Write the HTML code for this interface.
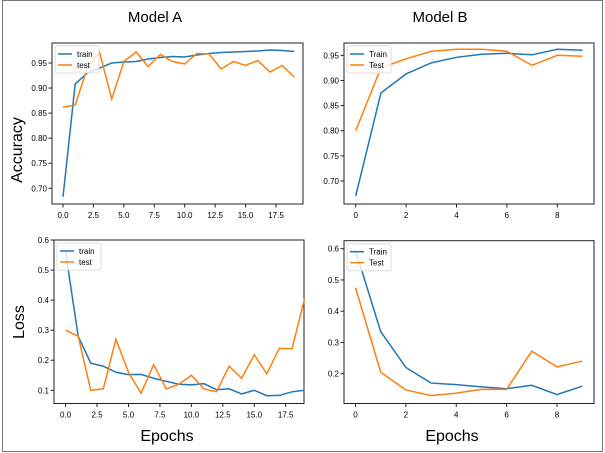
<!DOCTYPE html>
<html><head><meta charset="utf-8"><style>
html,body{margin:0;padding:0;background:#fff}
svg{display:block;font-family:"Liberation Sans","DejaVu Sans",sans-serif}
</style></head><body>
<svg id="c" width="605" height="453" viewBox="0 0 605 453">
<rect x="2.5" y="0.5" width="600" height="451" fill="#fff" stroke="#777"/>
<text x="155" y="22" font-size="15" text-anchor="middle">Model A</text>
<text x="440" y="22" font-size="15" text-anchor="middle">Model B</text>
<text x="22" y="150" font-size="16" text-anchor="middle" transform="rotate(-90 22 150)">Accuracy</text>
<text x="24" y="322" font-size="16" text-anchor="middle" transform="rotate(-90 24 322)">Loss</text>
<text x="167" y="441" font-size="16" text-anchor="middle">Epochs</text>
<text x="452" y="441" font-size="16" text-anchor="middle">Epochs</text>
</svg>
<script>
const aAccTrain=[0.683,0.908,0.93,0.94,0.95,0.952,0.953,0.958,0.961,0.963,0.962,0.966,0.969,0.971,0.972,0.973,0.974,0.976,0.975,0.973];
const aAccTest=[0.862,0.866,0.94,0.972,0.878,0.953,0.972,0.943,0.967,0.953,0.948,0.969,0.968,0.938,0.953,0.945,0.955,0.932,0.945,0.922];
const aLossTrain=[0.56,0.28,0.19,0.18,0.16,0.152,0.153,0.14,0.13,0.12,0.118,0.122,0.102,0.105,0.088,0.1,0.082,0.083,0.095,0.1];
const aLossTest=[0.30,0.28,0.10,0.105,0.27,0.16,0.09,0.185,0.105,0.12,0.15,0.105,0.095,0.18,0.14,0.218,0.155,0.24,0.238,0.405];
const bAccTrain=[0.67,0.875,0.913,0.935,0.946,0.952,0.954,0.951,0.962,0.96];
const bAccTest=[0.80,0.925,0.943,0.958,0.962,0.962,0.958,0.93,0.95,0.948];
const bLossTrain=[0.595,0.335,0.22,0.17,0.165,0.158,0.152,0.163,0.133,0.16];
const bLossTest=[0.475,0.205,0.148,0.13,0.138,0.15,0.15,0.272,0.222,0.24];
const aXTicks=[0,2.5,5,7.5,10,12.5,15,17.5];
const bXTicks=[0,2,4,6,8];
const accYTicks=[0.70,0.75,0.80,0.85,0.90,0.95];
const aLossYTicks=[0.1,0.2,0.3,0.4,0.5,0.6];
const bLossYTicks=[0.2,0.3,0.4,0.5,0.6];
const NS="http://www.w3.org/2000/svg";
const svg=document.getElementById('c');
function mk(tag,attrs,parent){const e=document.createElementNS(NS,tag);for(const k in attrs)e.setAttribute(k,attrs[k]);(parent||svg).appendChild(e);return e;}
function panel(p){
  const g=mk('g',{});
  
  
  const sx=v=>p.x0+(v-p.xv0)*(p.x1-p.x0)/(p.xv1-p.xv0);
  const sy=v=>p.y0+(v-p.yv0)*(p.y1-p.y0)/(p.yv1-p.yv0);
  const fr=mk('rect',{x:p.L,y:p.T,width:p.R-p.L,height:p.B-p.T,fill:'none',stroke:'#222','stroke-width':1},g);
  
  
  p.xt.forEach(v=>{
    mk('line',{x1:sx(v),x2:sx(v),y1:p.B,y2:p.B+3.5,stroke:'#222'},g);
    const t=mk('text',{x:sx(v),y:p.B+14,'font-size':8,'text-anchor':'middle'},g);
    t.textContent=p.xfmt(v);
    
    
  });
  p.yt.forEach(v=>{
    mk('line',{x1:p.L-3.5,x2:p.L,y1:sy(v),y2:sy(v),stroke:'#222'},g);
    const t=mk('text',{x:p.L-5,y:sy(v)+3,'font-size':8,'text-anchor':'end'},g);
    t.textContent=p.yfmt(v);
    
    
  });
  [[p.s1,'#1f77b4','train-line'],[p.s2,'#ff7f0e','test-line']].forEach(([d,c,n])=>{
    const l=mk('polyline',{points:d.map((v,i)=>sx(i)+','+sy(v)).join(' '),fill:'none',stroke:c,'stroke-width':1.5},g);
    
    
  });
  const lg=mk('g',{},g);
  
  
  mk('rect',{x:p.L+3,y:p.T+3,width:p.lw,height:27,fill:'#fff','fill-opacity':0.8,stroke:'#ddd',rx:2},lg);
  [[p.n1,'#1f77b4'],[p.n2,'#ff7f0e']].forEach(([n,c],i)=>{
    const y=p.T+11+i*11;
    mk('line',{x1:p.L+6,x2:p.L+20,y1:y,y2:y,stroke:c,'stroke-width':1.5},lg);
    const t=mk('text',{x:p.L+25,y:y+3,'font-size':8},lg);
    t.textContent=n;
    
    
  });
}
const f1=v=>v.toFixed(1), f2=v=>v.toFixed(2), f0=v=>String(v);
panel({name:'model-a-accuracy',L:52,R:303,T:43,B:204,x0:63,x1:276,xv0:0,xv1:17.5,y0:188.3,y1:63,yv0:0.70,yv1:0.95,xt:aXTicks,yt:accYTicks,xfmt:f1,yfmt:f2,s1:aAccTrain,s2:aAccTest,n1:'train',n2:'test',lw:44});
panel({name:'model-a-loss',L:54,R:304,T:240,B:403.5,x0:65.6,x1:285.7,xv0:0,xv1:17.5,y0:390.3,y1:240,yv0:0.1,yv1:0.6,xt:aXTicks,yt:aLossYTicks,xfmt:f1,yfmt:f1,s1:aLossTrain,s2:aLossTest,n1:'train',n2:'test',lw:44});
panel({name:'model-b-accuracy',L:344,R:594,T:43,B:204,x0:355.7,x1:557.3,xv0:0,xv1:8,y0:181,y1:55.3,yv0:0.70,yv1:0.95,xt:bXTicks,yt:accYTicks,xfmt:f0,yfmt:f2,s1:bAccTrain,s2:bAccTest,n1:'Train',n2:'Test',lw:44});
panel({name:'model-b-loss',L:344,R:594,T:240.7,B:403.5,x0:355.5,x1:557,xv0:0,xv1:8,y0:373.7,y1:248.7,yv0:0.2,yv1:0.6,xt:bXTicks,yt:bLossYTicks,xfmt:f0,yfmt:f1,s1:bLossTrain,s2:bLossTest,n1:'Train',n2:'Test',lw:44});
</script>
</body></html>
